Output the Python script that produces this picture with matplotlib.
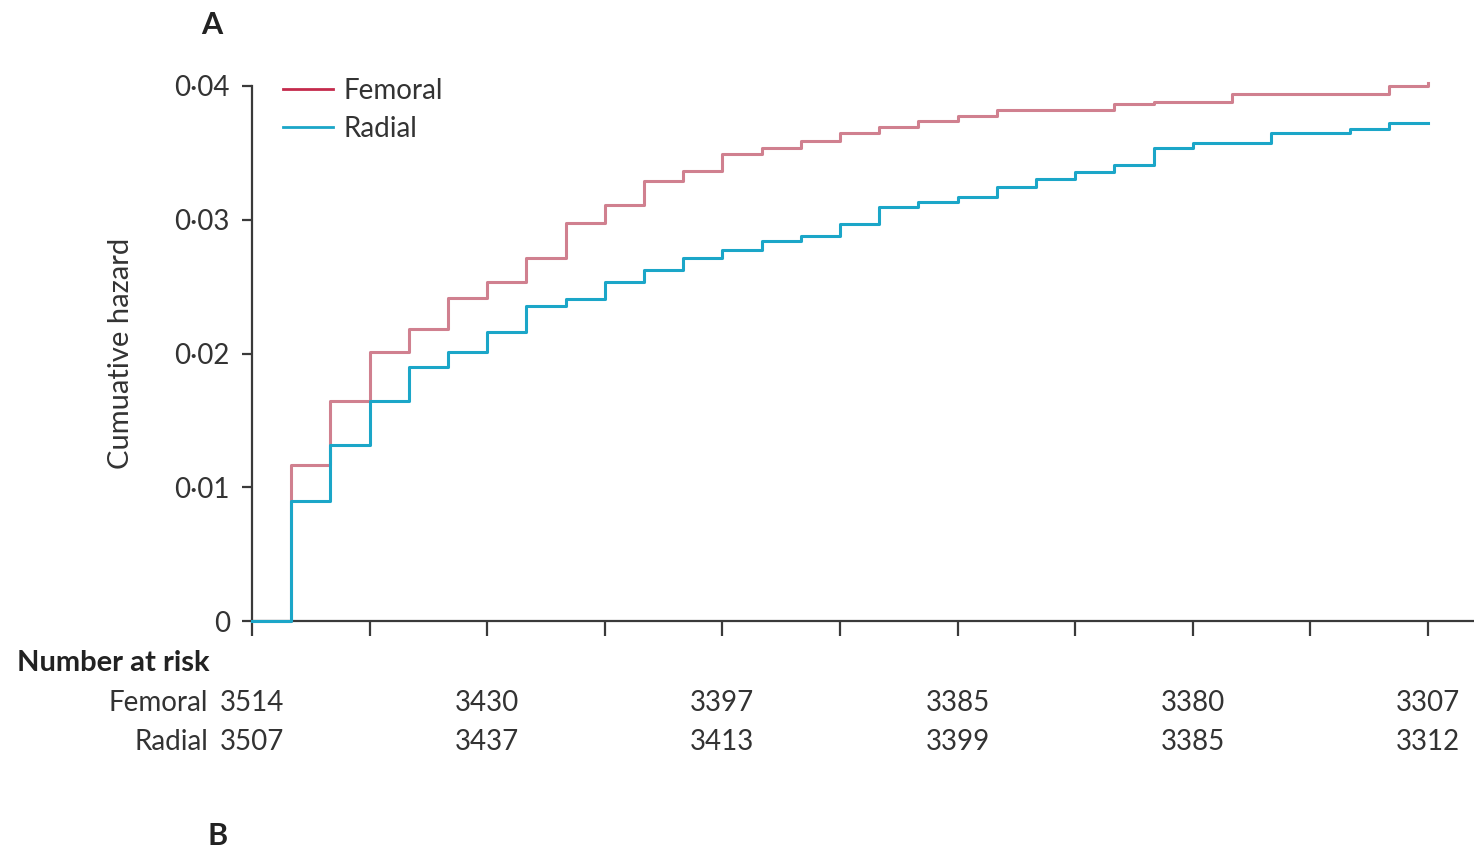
import matplotlib.pyplot as plt
from matplotlib.lines import Line2D

# Dias de seguimento (0 a 30) e risco cumulativo
dias = list(range(0, 31))
femoral = [0, 0.01166, 0.01645, 0.02011, 0.02183, 0.02415, 0.02537, 0.02714,
           0.02976, 0.03110, 0.03293, 0.03368, 0.03488, 0.03533, 0.03589,
           0.03649, 0.03693, 0.03738, 0.03776, 0.03820, 0.03820, 0.03820,
           0.03865, 0.03880, 0.03880, 0.03940, 0.03940, 0.03940, 0.03940,
           0.04000, 0.04022]
radial = [0, 0.00897, 0.01316, 0.01645, 0.01899, 0.02011, 0.02161, 0.02355,
          0.02407, 0.02535, 0.02624, 0.02714, 0.02774, 0.02841, 0.02879,
          0.02968, 0.03095, 0.03133, 0.03170, 0.03245, 0.03305, 0.03357,
          0.03409, 0.03536, 0.03574, 0.03574, 0.03649, 0.03649, 0.03678,
          0.03723, 0.03723]

y_ticks = [0, 0.01, 0.02, 0.03, 0.04]
y_labels = ["0", "0·01", "0·02", "0·03", "0·04"]

# Número em risco
risco_dias = [0, 6, 12, 18, 24, 30]
risco_femoral = [3514, 3430, 3397, 3385, 3380, 3307]
risco_radial = [3507, 3437, 3413, 3399, 3385, 3312]

COR_FEM = "#d0808f"
COR_FEM_LEG = "#c42a4c"
COR_RAD = "#1ba6c8"
COR_EIXO = "#3a3a3a"
COR_TEXTO = "#333333"

plt.rcParams['font.family'] = ['Lato', 'DejaVu Sans']

W, H = 1474, 849
fig = plt.figure(figsize=(W / 100, H / 100), dpi=100)

x0, x1 = 252, 1474
ytop, ybot = 86, 621
ax = fig.add_axes([x0 / W, 1 - ybot / H, (x1 - x0) / W, (ybot - ytop) / H])

ax.plot(dias, femoral, drawstyle='steps-post', color=COR_FEM, lw=2.2, clip_on=False, zorder=3)
ax.plot(dias, radial, drawstyle='steps-post', color=COR_RAD, lw=2.2, clip_on=False, zorder=4)

dia_px = (1428 - 252) / 30
ax.set_xlim(0, (x1 - x0) / dia_px)
ax.set_ylim(0, 0.04)

ax.set_xticks(range(0, 31, 3))
ax.set_xticklabels([])
ax.set_yticks(y_ticks)
ax.set_yticklabels(y_labels, fontsize=20, color=COR_TEXTO)

for lado in ['top', 'right']:
    ax.spines[lado].set_visible(False)
for lado in ['left', 'bottom']:
    ax.spines[lado].set_color(COR_EIXO)
    ax.spines[lado].set_linewidth(1.6)
ax.tick_params(axis='x', direction='out', length=11, width=1.6, color=COR_EIXO)
ax.tick_params(axis='y', direction='out', length=7, width=1.6, color=COR_EIXO, pad=9)

ax.set_ylabel("Cumuative hazard", fontsize=21, color=COR_TEXTO, labelpad=29)

# Legenda
handles = [Line2D([], [], color=COR_FEM_LEG, lw=2), Line2D([], [], color=COR_RAD, lw=2)]
ax.legend(handles, ["Femoral", "Radial"], loc='upper left', frameon=False,
          bbox_to_anchor=(283 / W, 1 - 78 / H), bbox_transform=fig.transFigure,
          fontsize=20, handlelength=1.8, handletextpad=0.36, labelspacing=0.42,
          borderpad=0, borderaxespad=0, labelcolor=COR_TEXTO)

# Painel A / B
fig.text(212 / W, 1 - 25 / H, "A", fontsize=22, fontweight='bold', ha='center', va='center', color="#222222")
fig.text(218 / W, 1 - 845 / H, "B", fontsize=22, fontweight='bold', ha='center', va='baseline', color="#222222")

# Tabela de número em risco
fig.text(17 / W, 1 - 663 / H, "Number at risk", fontsize=21, fontweight='bold', ha='left', va='center', color="#222222")
fig.text(208 / W, 1 - 703 / H, "Femoral", fontsize=20, ha='right', va='center', color=COR_TEXTO)
fig.text(208 / W, 1 - 742 / H, "Radial", fontsize=20, ha='right', va='center', color=COR_TEXTO)
for d, nf, nr in zip(risco_dias, risco_femoral, risco_radial):
    xf = (252 + d * dia_px) / W
    fig.text(xf, 1 - 703 / H, str(nf), fontsize=20, ha='center', va='center', color=COR_TEXTO)
    fig.text(xf, 1 - 742 / H, str(nr), fontsize=20, ha='center', va='center', color=COR_TEXTO)

fig.savefig("out.png", dpi=100)
